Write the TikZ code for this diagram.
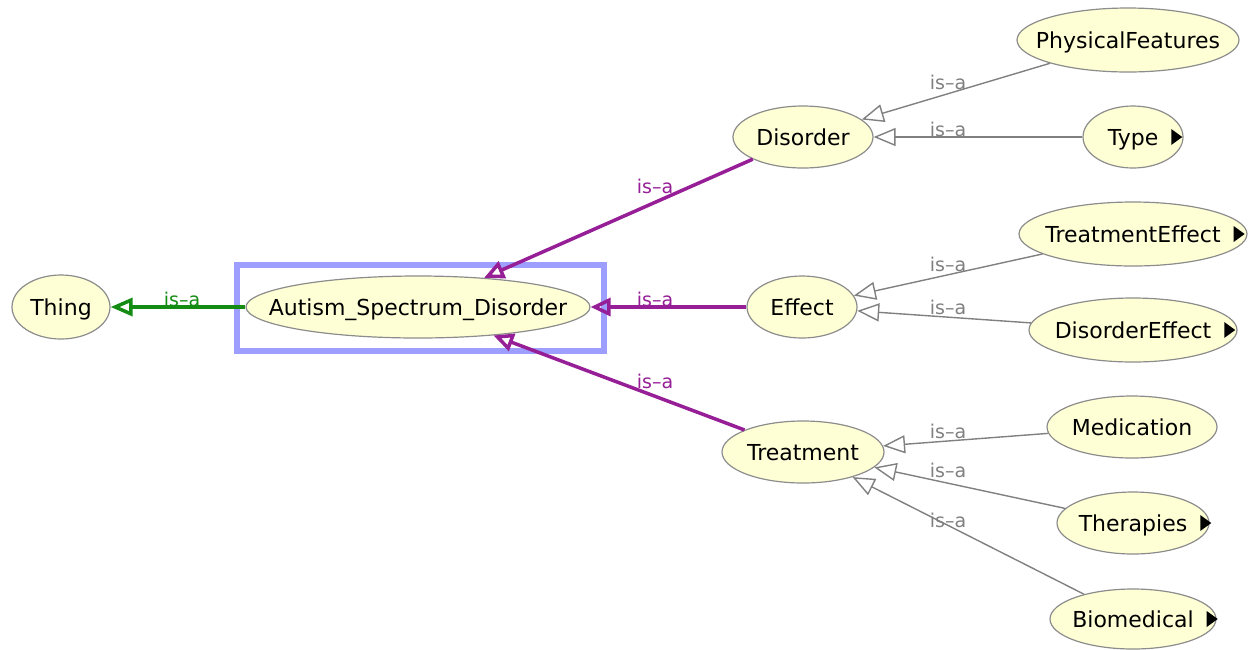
\documentclass[tikz,border=0pt]{standalone}
\usepackage{fontspec}
\setmainfont{DejaVu Sans}
\usetikzlibrary{shapes.geometric,arrows.meta}

\definecolor{nodefill}{RGB}{255,255,214}
\definecolor{nodeline}{RGB}{140,140,140}
\definecolor{isagray}{RGB}{128,128,128}
\definecolor{isapurple}{RGB}{150,30,150}
\definecolor{isagreen}{RGB}{20,140,20}
\definecolor{selblue}{RGB}{158,158,255}

% small black marker for classes that have further subclasses
\newcommand\expander{\tikz[baseline=0pt]\fill[black] (0pt,0pt) -- (0pt,16pt) -- (11pt,8pt) -- cycle;}

\tikzset{
  cls/.style={ellipse, draw=nodeline, line width=1.2pt, fill=nodefill,
    inner sep=0pt, text height=16pt, text depth=0pt,
    font=\fontsize{22}{26}\selectfont, text=black},
  isa/.style={font=\fontsize{19}{22}\selectfont, inner sep=0pt},
  subgray/.style={draw=isagray, line width=1.4pt,
    -{Triangle[open,length=22pt,width=18pt]}},
  subpurple/.style={draw=isapurple, line width=3.5pt,
    -{Triangle[open,length=20pt,width=18pt]}},
  subgreen/.style={draw=isagreen, line width=3.5pt,
    -{Triangle[open,length=22pt,width=18pt]}},
}

\begin{document}
\begin{tikzpicture}[x=1pt,y=-1pt]
\useasboundingbox (0,0) rectangle (1249,649);

% selection frame
\node[draw=selblue, line width=6pt, minimum width=367pt, minimum height=86pt, inner sep=0pt] (sel) at (420.5,308) {};

% classes
\node[cls, minimum width=98pt,  minimum height=64pt] (thing) at (61,307) {\makebox[0pt]{Thing}};
\node[cls, minimum width=344pt, minimum height=62pt] (asd) at (418,307) {\makebox[0pt]{Autism\_Spectrum\_Disorder}};
\node[cls, minimum width=140pt, minimum height=62pt] (disorder) at (803,137) {\makebox[0pt]{Disorder}};
\node[cls, minimum width=110pt, minimum height=62pt] (effect) at (802,307) {\makebox[0pt]{Effect}};
\node[cls, minimum width=162pt, minimum height=62pt] (treatment) at (803,452) {\makebox[0pt]{Treatment}};

\node[cls, minimum width=222pt, minimum height=64pt] (physical) at (1128,40) {\makebox[0pt]{PhysicalFeatures}};
\node[cls, minimum width=100pt, minimum height=62pt] (type) at (1133,137) {\makebox[0pt]{Type\rlap{\hspace{13pt}\expander}}};
\node[cls, minimum width=228pt, minimum height=64pt] (treffect) at (1133,234) {\makebox[0pt]{TreatmentEffect\rlap{\hspace{13pt}\expander}}};
\node[cls, minimum width=208pt, minimum height=64pt] (diseffect) at (1133,330) {\makebox[0pt]{DisorderEffect\rlap{\hspace{13pt}\expander}}};
\node[cls, minimum width=170pt, minimum height=62pt] (medication) at (1132,427) {\makebox[0pt]{Medication}};
\node[cls, minimum width=152pt, minimum height=62pt] (therapies) at (1133,523) {\makebox[0pt]{Therapies\rlap{\hspace{13pt}\expander}}};
\node[cls, minimum width=166pt, minimum height=60pt] (biomedical) at (1133,619) {\makebox[0pt]{Biomedical\rlap{\hspace{13pt}\expander}}};

% is-a edges
\draw[subgreen]  (asd) -- (thing);
\draw[subpurple] (disorder) -- (asd);
\draw[subpurple] (effect) -- (asd);
\draw[subpurple] (treatment) -- (asd);
\draw[subgray] (physical) -- (disorder);
\draw[subgray] (type) -- (disorder);
\draw[subgray] (treffect) -- (effect);
\draw[subgray] (diseffect) -- (effect);
\draw[subgray] (medication) -- (treatment);
\draw[subgray] (therapies) -- (treatment);
\draw[subgray] (biomedical) -- (treatment);

% edge labels
\node[isa, text=isagreen]  (l0) at (182,299) {is–a};
\node[isa, text=isapurple] (l1) at (655,186) {is–a};
\node[isa, text=isapurple] (l2) at (655,299) {is–a};
\node[isa, text=isapurple] (l3) at (655,381) {is–a};
\node[isa, text=isagray] (l4) at (948,82)  {is–a};
\node[isa, text=isagray] (l5) at (948,129) {is–a};
\node[isa, text=isagray] (l6) at (948,264) {is–a};
\node[isa, text=isagray] (l7) at (948,307) {is–a};
\node[isa, text=isagray] (l8) at (948,431) {is–a};
\node[isa, text=isagray] (l9) at (948,470) {is–a};
\node[isa, text=isagray] (l10) at (948,520) {is–a};
\end{tikzpicture}
\end{document}
